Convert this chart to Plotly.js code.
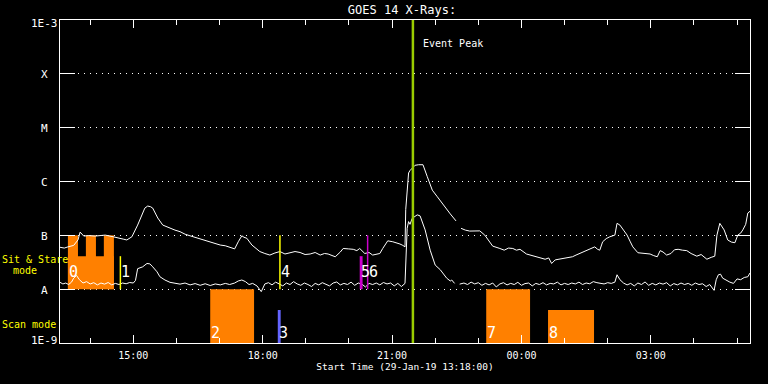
<!DOCTYPE html>
<html><head><meta charset="utf-8">
<script src="https://cdn.plot.ly/plotly-3.0.1.min.js"></script>
<style>html,body{margin:0;padding:0;background:#000;}#chart{width:768px;height:384px;}</style>
</head><body><div id="chart"></div>
<script>
// ---------- DATA ----------
const DAY0 = '2019-01-29', DAY1 = '2019-01-30';
const startTime = '13:18', endTime = '05:18';

// GOES 14 long channel (1-8 A), W/m^2
const longTimes = ['13:18','13:24','13:29','13:33','13:37','13:43','13:46','13:51','13:58','14:07','14:14','14:21','14:32','14:40','14:46','14:51','14:58','15:06','15:12','15:16','15:20','15:24','15:27','15:34','15:41','15:46','15:51','15:58','16:05','16:12','16:19','16:26','16:33','16:40','16:47','16:54','17:01','17:08','17:14','17:21','17:26','17:31','17:34','17:38','17:45','17:50','17:56','18:03','18:10','18:17','18:24','18:31','18:38','18:45','18:52','18:59','19:06','19:13','19:20','19:26','19:31','19:36','19:41','19:48','19:52','19:59','20:06','20:11','20:15','20:22','20:28','20:33','20:38','20:43','20:47','20:54','21:01','21:06','21:11','21:15','21:18','21:19','21:21','21:23','21:25','21:28','21:32','21:37','21:43','21:49','21:56','22:03','22:11','22:21','22:29','22:32','22:36','22:42','22:48','22:55','23:02','23:09','23:15','23:20','23:30','23:36','23:42','23:48','23:53','23:58','00:07','00:15','00:25','00:33','00:38','00:42','00:47','00:56','01:04','01:11','01:16','01:21','01:26','01:31','01:37','01:42','01:46','01:49','01:53','01:58','02:03','02:10','02:13','02:17','02:22','02:27','02:31','02:35','02:42','02:50','02:59','03:04','03:09','03:13','03:17','03:22','03:28','03:33','03:38','03:44','03:50','03:56','04:04','04:10','04:18','04:24','04:29','04:32','04:36','04:42','04:47','04:52','04:57','05:01','05:05','05:08','05:12','05:15','05:18'];
const longFlux = [6.0e-8,5.8e-8,6.1e-8,6.3e-8,6.5e-8,8.2e-8,1.15e-7,9.7e-8,9.9e-8,9.7e-8,1.0e-7,1.01e-7,9.4e-8,9.0e-8,8.5e-8,8.2e-8,9.4e-8,1.55e-7,2.4e-7,3.2e-7,3.5e-7,3.4e-7,3.2e-7,2.1e-7,1.55e-7,1.45e-7,1.37e-7,1.25e-7,1.17e-7,1.05e-7,9.8e-8,9.2e-8,8.5e-8,8.0e-8,7.6e-8,7.0e-8,6.6e-8,6.4e-8,6.1e-8,5.6e-8,7.6e-8,9.8e-8,9.2e-8,8.8e-8,6.6e-8,5.8e-8,5.0e-8,4.6e-8,4.3e-8,4.7e-8,5.0e-8,4.5e-8,4.7e-8,5.0e-8,4.8e-8,4.4e-8,4.5e-8,4.8e-8,4.3e-8,4.6e-8,4.5e-8,4.2e-8,4.0e-8,4.9e-8,5.7e-8,5.6e-8,5.5e-8,5.2e-8,5.7e-8,4.6e-8,4.8e-8,4.3e-8,4.5e-8,4.6e-8,5.7e-8,7.9e-8,7.6e-8,7.3e-8,6.9e-8,6.5e-8,6.1e-8,3.0e-7,6.1e-7,1.44e-6,1.6e-6,1.78e-6,2.0e-6,2.05e-6,2.05e-6,1.23e-6,6.9e-7,5.2e-7,3.7e-7,2.5e-7,1.85e-7,null,1.35e-7,1.25e-7,1.2e-7,1.22e-7,1.21e-7,1.01e-7,7.8e-8,6.3e-8,5.7e-8,5.3e-8,5.8e-8,5.7e-8,5.3e-8,5.5e-8,4.5e-8,4.2e-8,3.9e-8,3.6e-8,3.8e-8,3.0e-8,3.5e-8,3.7e-8,3.8e-8,4.0e-8,4.3e-8,4.6e-8,5.0e-8,5.3e-8,5.9e-8,6.1e-8,5.5e-8,5.3e-8,7.6e-8,8.7e-8,9.4e-8,1.01e-7,1.67e-7,1.55e-7,1.25e-7,1.01e-7,7.8e-8,6.1e-8,4.75e-8,4.6e-8,4.5e-8,4.2e-8,4.0e-8,5.2e-8,4.9e-8,4.3e-8,4.6e-8,5.4e-8,5.5e-8,5.3e-8,5.2e-8,4.6e-8,4.1e-8,4.4e-8,3.6e-8,3.9e-8,4.1e-8,1.01e-7,1.67e-7,1.26e-7,8.2e-8,7.5e-8,7.3e-8,1.01e-7,1.1e-7,1.26e-7,1.6e-7,2.6e-7,2.8e-7];

// GOES 14 short channel (0.5-4 A), W/m^2
const shortTimes = ['13:18','13:22','13:26','13:30','13:34','13:37','13:41','13:45','13:50','13:55','14:00','14:05','14:10','14:15','14:20','14:25','14:30','14:35','14:40','14:45','14:50','14:55','15:00','15:03','15:06','15:13','15:19','15:23','15:27','15:33','15:37','15:44','15:51','15:58','16:05','16:12','16:19','16:26','16:33','16:40','16:47','16:54','17:01','17:08','17:14','17:21','17:26','17:31','17:36','17:41','17:46','17:52','17:58','18:03','18:08','18:13','18:18','18:23','18:28','18:33','18:38','18:43','18:48','18:53','18:58','19:03','19:08','19:13','19:18','19:23','19:28','19:33','19:38','19:43','19:48','19:53','19:58','20:03','20:08','20:13','20:18','20:23','20:28','20:33','20:38','20:43','20:48','20:53','20:58','21:03','21:08','21:13','21:18','21:21','21:23','21:25','21:28','21:35','21:39','21:43','21:46','21:53','22:00','22:07','22:11','22:16','22:21','22:23','22:27','22:32','22:34','22:40','22:45','22:50','22:55','23:00','23:05','23:10','23:15','23:20','23:25','23:30','23:35','23:40','23:45','23:50','23:55','00:00','00:05','00:10','00:15','00:20','00:25','00:30','00:35','00:40','00:45','00:50','00:55','01:00','01:05','01:10','01:15','01:20','01:25','01:30','01:35','01:40','01:45','01:50','01:55','02:00','02:05','02:10','02:13','02:17','02:22','02:27','02:32','02:37','02:42','02:47','02:52','02:57','03:02','03:07','03:12','03:17','03:22','03:27','03:32','03:37','03:42','03:47','03:52','03:57','04:02','04:07','04:12','04:17','04:22','04:28','04:31','04:34','04:37','04:40','04:45','04:50','04:55','05:00','05:05','05:10','05:15','05:18'];
const shortFlux = [1.34e-8,1.25e-8,1.3e-8,1.22e-8,1.35e-8,1.6e-8,1.8e-8,1.5e-8,1.3e-8,1.38e-8,1.25e-8,1.32e-8,1.2e-8,1.3e-8,1.24e-8,1.33e-8,1.2e-8,1.28e-8,1.22e-8,1.3e-8,1.26e-8,1.33e-8,1.3e-8,1.45e-8,2.4e-8,2.6e-8,3.0e-8,2.95e-8,2.6e-8,2.1e-8,1.7e-8,1.48e-8,1.34e-8,1.28e-8,1.24e-8,1.3e-8,1.2e-8,1.27e-8,1.18e-8,1.26e-8,1.17e-8,1.25e-8,1.2e-8,1.28e-8,1.22e-8,1.3e-8,1.42e-8,1.48e-8,1.38e-8,1.22e-8,1.28e-8,1.15e-8,0.9e-8,1.25e-8,1.32e-8,1.2e-8,1.35e-8,1.25e-8,1.15e-8,1.3e-8,1.22e-8,1.38e-8,1.25e-8,1.18e-8,1.3e-8,1.22e-8,1.12e-8,1.28e-8,1.2e-8,1.32e-8,1.24e-8,1.15e-8,1.3e-8,1.36e-8,1.2e-8,1.28e-8,1.22e-8,1.35e-8,1.18e-8,1.3e-8,1.24e-8,1.1e-8,1.28e-8,1.22e-8,1.3e-8,1.2e-8,1.33e-8,1.25e-8,1.3e-8,1.15e-8,1.28e-8,1.12e-8,1.28e-8,1.35e-7,1.8e-7,1.6e-7,2.07e-7,2.4e-7,2.3e-7,1.7e-7,1.26e-7,5.3e-8,2.8e-8,2.3e-8,2.0e-8,1.6e-8,1.42e-8,1.48e-8,1.28e-8,null,1.24e-8,1.3e-8,1.22e-8,1.35e-8,1.25e-8,1.32e-8,1.18e-8,1.28e-8,1.2e-8,1.3e-8,1.1e-8,1.25e-8,1.32e-8,1.2e-8,1.28e-8,1.22e-8,1.34e-8,1.18e-8,1.27e-8,1.3e-8,1.15e-8,1.28e-8,1.22e-8,1.32e-8,1.2e-8,1.28e-8,1.25e-8,1.35e-8,1.2e-8,1.28e-8,1.22e-8,1.3e-8,1.25e-8,1.35e-8,1.22e-8,1.3e-8,1.26e-8,1.38e-8,1.32e-8,1.3e-8,1.25e-8,1.32e-8,1.28e-8,1.35e-8,1.85e-8,1.5e-8,1.3e-8,1.2e-8,1.28e-8,1.15e-8,1.3e-8,1.22e-8,1.36e-8,1.18e-8,1.28e-8,1.2e-8,1.3e-8,1.24e-8,1.32e-8,1.15e-8,1.27e-8,1.2e-8,1.3e-8,1.22e-8,1.28e-8,1.18e-8,1.3e-8,1.22e-8,1.26e-8,1.12e-8,1.22e-8,0.95e-8,1.5e-8,1.85e-8,1.9e-8,1.6e-8,1.45e-8,1.35e-8,1.28e-8,1.55e-8,1.5e-8,1.65e-8,1.7e-8,2.0e-8];

// Observations
const obsLabels = ['0','1','2','3','4','5','6','7','8'];
const obsStart  = ['13:29','14:42','16:47','18:21','18:24','20:15','20:26','23:11','00:37'];
const obsEnd    = ['14:33','14:42','17:48','18:25','18:24','20:19','20:26','00:12','01:41'];
const obsMode   = ['sit','sit','scan','scan','sit','sit','sit','scan','scan'];
const obsLevel  = ['part','part','full','part','full','part','full','full','part'];
// full-height raster segments inside observation 0
const rasterStart = ['13:29','13:54','14:19'];
const rasterEnd   = ['13:43','14:08','14:33'];
const eventPeak = '21:29';

const yLabels = ['1E-9','A','B','C','M','X','1E-3'];
const yLabelVals = [1e-9,1e-8,1e-7,1e-6,1e-5,1e-4,1e-3];

// ---------- STYLE / HELPERS ----------
const obsColor = ['#ff8000','#ffff00','#ff8000','#6464ff','#ffff00','#cc00cc','#cc00cc','#ff8000','#ff8000'];
const band = {sit:{base:1e-8, full:1e-7, part:4.1e-8, label:2.08e-8},
              scan:{base:1e-9, full:1e-8, part:4.1e-9, label:1.53e-9}};
function toDate(hm){ const h = +hm.slice(0,2); return (h >= 12 ? DAY0 : DAY1) + ' ' + hm; }

const traces = [
  {x: longTimes.map(toDate), y: longFlux, type:'scatter', mode:'lines', line:{color:'#ffffff', width:1}, hoverinfo:'skip', connectgaps:false},
  {x: shortTimes.map(toDate), y: shortFlux, type:'scatter', mode:'lines', line:{color:'#ffffff', width:1}, hoverinfo:'skip', connectgaps:false}
];

const shapes = [];
const annotations = [];
obsLabels.forEach((lab, i) => {
  const b = band[obsMode[i]];
  const top = b[obsLevel[i]];
  const x0 = toDate(obsStart[i]), x1 = toDate(obsEnd[i]);
  const isBig = obsColor[i] === '#ff8000';
  if (obsStart[i] === obsEnd[i]) {
    shapes.push({type:'line', xref:'x', yref:'y', x0:x0, x1:x1, y0:b.base, y1:top, line:{color:obsColor[i], width:1.5}, layer:'above'});
  } else {
    shapes.push({type:'rect', xref:'x', yref:'y', x0:x0, x1:x1, y0:b.base, y1:top, fillcolor:obsColor[i], line:{width:0}, layer: isBig ? 'between' : 'above'});
  }
  annotations.push({xref:'x', yref:'y', x:x0, y:Math.log10(b.label), text:lab, showarrow:false, xanchor:'left', yanchor:'middle', xshift:-1, font:{size:15, color:'#ffffff'}});
});
rasterStart.forEach((s, i) => {
  shapes.push({type:'rect', xref:'x', yref:'y', x0:toDate(s), x1:toDate(rasterEnd[i]), y0:band.sit.base, y1:band.sit.full, fillcolor:obsColor[0], line:{width:0}, layer:'between'});
});
shapes.push({type:'line', xref:'x', yref:'paper', x0:toDate(eventPeak), x1:toDate(eventPeak), y0:0, y1:1, line:{color:'#99cc00', width:2.5}, layer:'above'});
annotations.push({xref:'x', yref:'paper', x:toDate(eventPeak), y:(343-43)/323, text:'Event Peak', showarrow:false, xanchor:'left', yanchor:'middle', xshift:8, font:{size:10, color:'#ffffff'}});

yLabels.forEach((t, i) => {
  let ys = 0;
  if (i === 0) ys = 3; else if (i === yLabels.length-1) ys = -3; else ys = -1;
  annotations.push({xref:'paper', yref:'y', x:-16/690, y:Math.log10(yLabelVals[i]), text:t, showarrow:false, xanchor:'center', yanchor:'middle', yshift:ys, font:{size:11, color:'#ffffff'}});
});
annotations.push({xref:'paper', yref:'paper', x:(0-60)/690, y:(343-259.8)/323, text:'Sit & Stare', showarrow:false, xanchor:'left', yanchor:'middle', font:{size:10, color:'#ffff00'}});
annotations.push({xref:'paper', yref:'paper', x:(11-60)/690, y:(343-270.5)/323, text:'mode', showarrow:false, xanchor:'left', yanchor:'middle', font:{size:10, color:'#ffff00'}});
annotations.push({xref:'paper', yref:'paper', x:(0-60)/690, y:(343-324.5)/323, text:'Scan mode', showarrow:false, xanchor:'left', yanchor:'middle', font:{size:10, color:'#ffff00'}});

const layout = {
  width:768, height:384,
  margin:{l:60, r:18, t:20, b:41, pad:0},
  paper_bgcolor:'#000000', plot_bgcolor:'#000000',
  font:{family:'DejaVu Sans Mono', color:'#ffffff', size:10},
  showlegend:false,
  title:{text:'GOES 14 X-Rays:', font:{size:12, color:'#ffffff'}, xref:'paper', x:(402-60)/690, xanchor:'center', yref:'container', y:1-10/384, yanchor:'middle'},
  xaxis:{
    type:'date', range:[toDate(startTime), toDate(endTime)],
    tick0:toDate('15:00'), dtick:3*3600000, tickformat:'%H:%M',
    ticks:'inside', ticklen:8, tickwidth:1, tickcolor:'#ffffff',
    minor:{dtick:3600000, ticks:'inside', ticklen:5, tickwidth:1, tickcolor:'#ffffff', showgrid:false},
    showline:true, linecolor:'#ffffff', linewidth:1, mirror:'ticks',
    showgrid:false, zeroline:false, ticklabelstandoff:3,
    tickfont:{size:10, color:'#ffffff'},
    title:{text:'Start Time (29-Jan-19 13:18:00)', font:{size:9.5, color:'#ffffff'}, standoff:3},
    automargin:false
  },
  yaxis:{
    type:'log', range:[-9,-3],
    tickvals:[1e-8,1e-7,1e-6,1e-5,1e-4], showticklabels:false,
    ticks:'inside', ticklen:15, tickwidth:1, tickcolor:'#ffffff',
    showline:true, linecolor:'#ffffff', linewidth:1, mirror:'ticks',
    showgrid:true, gridcolor:'#ffffff', gridwidth:1, griddash:'1px,5px',
    zeroline:false, automargin:false
  },
  shapes:shapes, annotations:annotations
};
Plotly.newPlot('chart', traces, layout, {staticPlot:true, displayModeBar:false});
</script></body></html>
